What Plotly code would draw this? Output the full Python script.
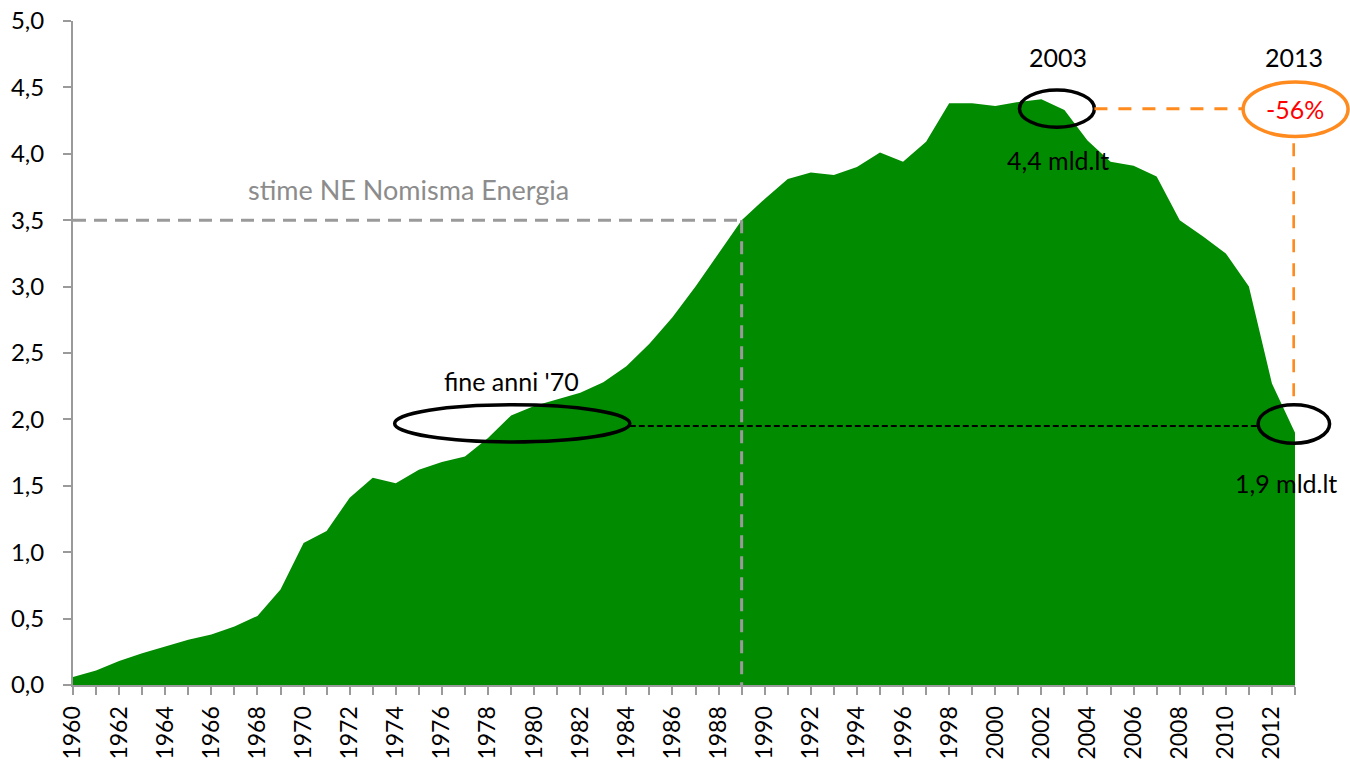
import plotly.graph_objects as go

years = list(range(1960, 2014))
consumo = [0.06, 0.11, 0.18, 0.24, 0.29, 0.34, 0.38, 0.44, 0.52, 0.72,
           1.07, 1.16, 1.41, 1.56, 1.52, 1.62, 1.68, 1.72, 1.86, 2.03,
           2.10, 2.15, 2.20, 2.28, 2.40, 2.57, 2.77, 3.00, 3.25, 3.50,
           3.66, 3.81, 3.86, 3.84, 3.90, 4.01, 3.94, 4.09, 4.38, 4.38,
           4.36, 4.39, 4.41, 4.33, 4.10, 3.94, 3.91, 3.83, 3.50, 3.38,
           3.25, 3.00, 2.27, 1.90]

y_ticks = [0, 0.5, 1, 1.5, 2, 2.5, 3, 3.5, 4, 4.5, 5]

X0, X1 = 1960, 2013
Y0, Y1 = 0, 5

def px(year):
    return (year - X0) / (X1 - X0)

def py(val):
    return (val - Y0) / (Y1 - Y0)

FONT = "Lato, 'Open Sans', sans-serif"
GREEN = "#008B00"
GRAY = "#9a9a9a"
ORANGE = "#FF8A1E"
TXT = 25

fig = go.Figure()
fig.add_trace(go.Scatter(
    x=years, y=consumo, mode="lines", fill="tozeroy",
    fillcolor=GREEN, line=dict(color=GREEN, width=0),
    hoverinfo="x+y", showlegend=False))

shapes = []
shapes.append(dict(type="line", xref="x", yref="y", x0=1960, x1=1989, y0=3.5, y1=3.5,
                   line=dict(color=GRAY, width=3, dash="13px,8px"), layer="above"))
shapes.append(dict(type="line", xref="x", yref="y", x0=1989, x1=1989, y0=3.5, y1=0,
                   line=dict(color=GRAY, width=3, dash="13px,8px"), layer="above"))
shapes.append(dict(type="line", xref="x", yref="y", x0=1984.15, x1=2011.4, y0=1.95, y1=1.95,
                   line=dict(color="black", width=2, dash="6px,3px"), layer="above"))
shapes.append(dict(type="circle", xref="x", yref="y", x0=1973.95, x1=1984.15, y0=1.83, y1=2.11,
                   line=dict(color="black", width=3.5), layer="above"))
shapes.append(dict(type="circle", xref="x", yref="y", x0=2001.05, x1=2004.3, y0=4.20, y1=4.48,
                   line=dict(color="black", width=3.5), layer="above"))
shapes.append(dict(type="line", xref="x", yref="y", x0=2004.3, x1=2010.75, y0=4.34, y1=4.34,
                   line=dict(color=ORANGE, width=3, dash="13px,11px"), layer="above"))
shapes.append(dict(type="line", xref="x", yref="y", x0=2012.95, x1=2012.95, y0=4.08, y1=2.15,
                   line=dict(color=ORANGE, width=3, dash="13px,11px"), layer="above"))
shapes.append(dict(type="circle", xref="paper", yref="paper",
                   x0=px(2010.75), x1=px(2015.3), y0=py(4.13), y1=py(4.54),
                   line=dict(color=ORANGE, width=3.5), layer="above"))
shapes.append(dict(type="circle", xref="paper", yref="paper",
                   x0=px(2011.4), x1=px(2014.5), y0=py(1.82), y1=py(2.11),
                   line=dict(color="black", width=3.5), layer="above"))

def note(x, y, text, color="black", size=TXT):
    return dict(x=px(x), y=py(y), xref="paper", yref="paper", text=text,
                xanchor="center", yanchor="middle", showarrow=False,
                font=dict(size=size, color=color, family=FONT))

annotations = [
    note(1974.55, 3.73, "stime NE Nomisma Energia", color="#8c8c8c", size=27),
    note(1979.0, 2.29, "fine anni '70"),
    note(2002.7, 4.73, "2003"),
    note(2012.95, 4.73, "2013"),
    note(2002.7, 3.95, "4,4 mld.lt"),
    note(2013.0, 4.34, "-56%", color="#FF0000"),
    note(2012.6, 1.52, "1,9 mld.lt"),
]

fig.update_layout(
    width=1350, height=762,
    margin=dict(l=73, r=55, t=21, b=77, autoexpand=False),
    paper_bgcolor="white", plot_bgcolor="white",
    separators=",.",
    shapes=shapes, annotations=annotations,
    font=dict(family=FONT, color="black"),
)
fig.update_xaxes(
    range=[X0, X1], dtick=1, tick0=1960, ticklabelstep=2, tickangle=-90,
    ticks="outside", ticklen=8, tickcolor=GRAY, tickwidth=2,
    showline=True, linecolor=GRAY, linewidth=2, showgrid=False, zeroline=False,
    automargin=False, ticklabelstandoff=2,
    tickfont=dict(size=23, color="black", family=FONT), tickformat="d")
fig.update_yaxes(
    range=[Y0, Y1], tickvals=y_ticks, tickformat=".1f",
    ticks="outside", ticklen=8, tickcolor=GRAY, tickwidth=2,
    showline=True, linecolor=GRAY, linewidth=2, showgrid=False, zeroline=False,
    automargin=False, ticklabelstandoff=14,
    tickfont=dict(size=24, color="black", family=FONT))

fig.write_html("out.html", config={"displayModeBar": False},
               post_script="document.body.style.margin='0';document.body.style.overflow='hidden';")
